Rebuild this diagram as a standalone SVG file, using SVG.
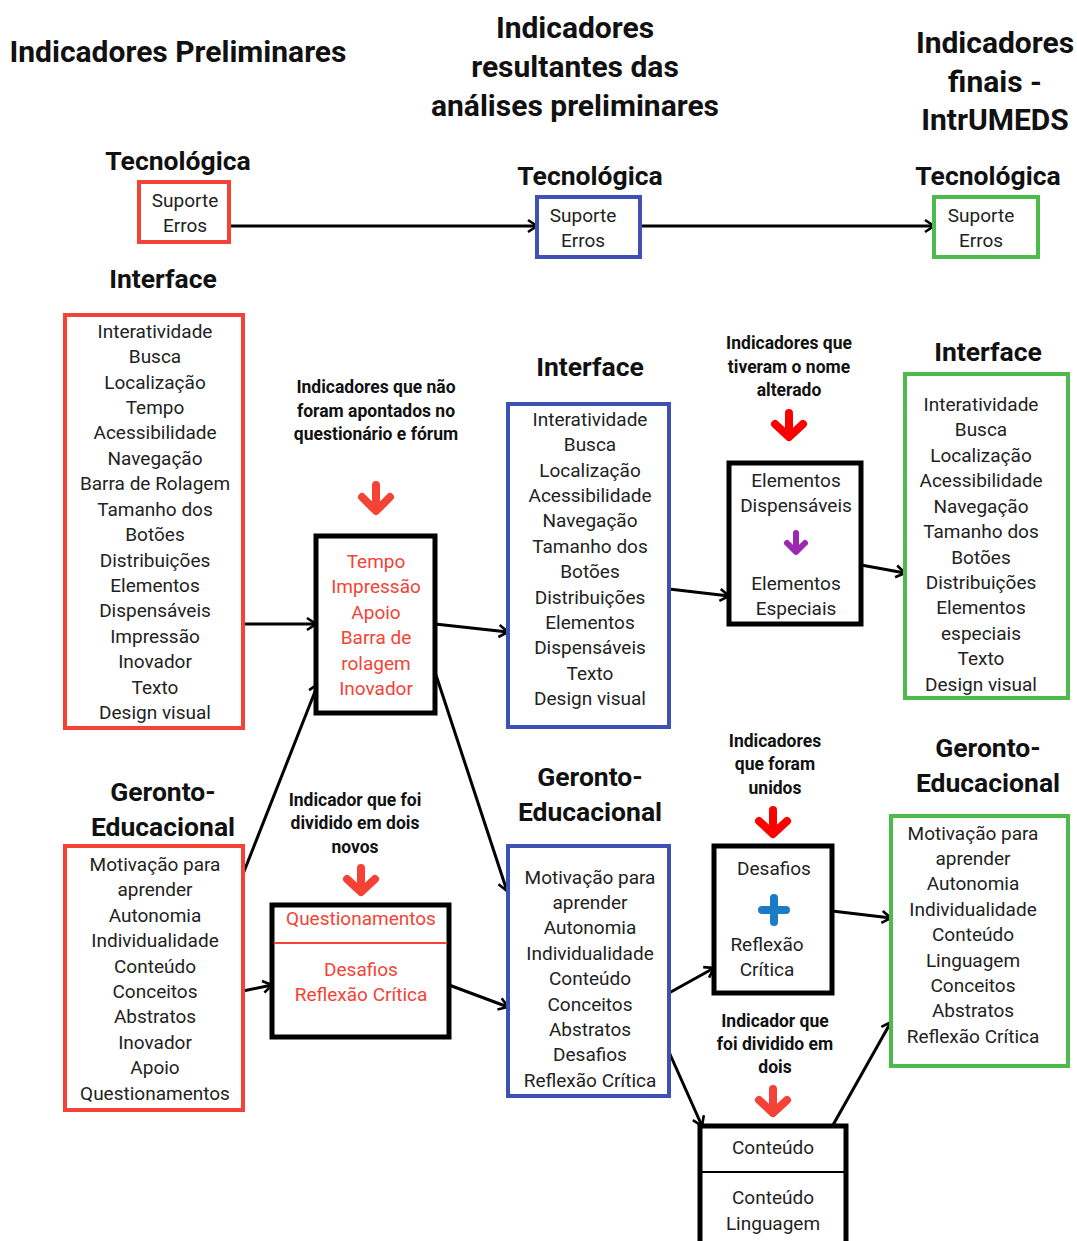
<svg xmlns="http://www.w3.org/2000/svg" width="1077" height="1241" viewBox="0 0 1077 1241">
<style>
text{font-family:Roboto,"Liberation Sans",sans-serif;text-anchor:middle}
.t{font-size:30px;font-weight:bold;fill:#111}
.h{font-size:26.5px;font-weight:bold;fill:#111}
.l{font-size:17.5px;font-weight:bold;fill:#111}
.b{font-size:19px;fill:#222}
.r{font-size:19px;fill:#f44336}
.bx{fill:#fff;stroke-width:4}
.red{stroke:#f44336}
.blue{stroke:#3f51b5}
.green{stroke:#4cbb4c}
.blk{stroke:#000;stroke-width:5}
.con{stroke:#000;stroke-width:3;fill:none;marker-end:url(#ah)}
.ar{fill:none;stroke-width:8;stroke-linecap:round;stroke-linejoin:round}
</style>
<defs>
<marker id="ah" markerUnits="userSpaceOnUse" markerWidth="14" markerHeight="16" refX="11" refY="8" orient="auto">
<path d="M2,2 L11,8 L2,14" fill="none" stroke="#000" stroke-width="2.6"/>
</marker>
</defs>
<rect width="1077" height="1241" fill="#fff"/>

<g id="titles">
<text class="t" x="178" y="62">Indicadores Preliminares</text>
<text class="t"><tspan x="575" y="38">Indicadores</tspan><tspan x="575" y="77">resultantes das</tspan><tspan x="575" y="116">análises preliminares</tspan></text>
<text class="t"><tspan x="995" y="53">Indicadores</tspan><tspan x="995" y="92">finais -</tspan><tspan x="995" y="130">IntrUMEDS</tspan></text>
</g>

<g id="headings">
<text class="h" x="178" y="170">Tecnológica</text>
<text class="h" x="590" y="185">Tecnológica</text>
<text class="h" x="988" y="185">Tecnológica</text>
<text class="h" x="163" y="288">Interface</text>
<text class="h" x="590" y="376">Interface</text>
<text class="h" x="988" y="361">Interface</text>
<text class="h"><tspan x="163" y="801">Geronto-</tspan><tspan x="163" y="836">Educacional</tspan></text>
<text class="h"><tspan x="590" y="786">Geronto-</tspan><tspan x="590" y="821">Educacional</tspan></text>
<text class="h"><tspan x="988" y="757">Geronto-</tspan><tspan x="988" y="792">Educacional</tspan></text>
</g>

<g id="labels">
<text class="l"><tspan x="376" y="393">Indicadores que não</tspan><tspan x="376" y="417">foram apontados no</tspan><tspan x="376" y="440">questionário e fórum</tspan></text>
<text class="l"><tspan x="789" y="349">Indicadores que</tspan><tspan x="789" y="373">tiveram o nome</tspan><tspan x="789" y="396">alterado</tspan></text>
<text class="l"><tspan x="355" y="806">Indicador que foi</tspan><tspan x="355" y="829">dividido em dois</tspan><tspan x="355" y="853">novos</tspan></text>
<text class="l"><tspan x="775" y="747">Indicadores</tspan><tspan x="775" y="770">que foram</tspan><tspan x="775" y="794">unidos</tspan></text>
<text class="l"><tspan x="775" y="1027">Indicador que</tspan><tspan x="775" y="1050">foi dividido em</tspan><tspan x="775" y="1073">dois</tspan></text>
</g>

<g id="connectors">
<line class="con" x1="229" y1="226" x2="537" y2="226"/>
<line class="con" x1="640" y1="226" x2="934" y2="226"/>
<line class="con" x1="243" y1="624" x2="316" y2="624"/>
<line class="con" x1="243" y1="874" x2="318" y2="684"/>
<line class="con" x1="435" y1="624" x2="508" y2="632"/>
<line class="con" x1="436" y1="675" x2="507" y2="891"/>
<line class="con" x1="243" y1="991" x2="272" y2="985"/>
<line class="con" x1="449" y1="985" x2="508" y2="1007"/>
<line class="con" x1="669" y1="589" x2="729" y2="596"/>
<line class="con" x1="861" y1="565" x2="905" y2="573"/>
<line class="con" x1="669" y1="993" x2="714" y2="968"/>
<line class="con" x1="832" y1="911" x2="891" y2="918"/>
<line class="con" x1="669" y1="1052" x2="702" y2="1126"/>
<line class="con" x1="833" y1="1125" x2="891" y2="1022"/>
</g>

<g id="tec-pre">
<rect class="bx red" x="139" y="182" width="90" height="60"/>
<text class="b"><tspan x="185" y="207">Suporte</tspan><tspan x="185" y="232">Erros</tspan></text>
</g>
<g id="tec-res">
<rect class="bx blue" x="537" y="197" width="103" height="60"/>
<text class="b"><tspan x="583" y="222">Suporte</tspan><tspan x="583" y="247">Erros</tspan></text>
</g>
<g id="tec-fin">
<rect class="bx green" x="934" y="197" width="104" height="60"/>
<text class="b"><tspan x="981" y="222">Suporte</tspan><tspan x="981" y="247">Erros</tspan></text>
</g>

<g id="int-pre">
<rect class="bx red" x="65" y="315" width="178" height="413"/>
<text class="b"><tspan x="155" y="338">Interatividade</tspan><tspan x="155" y="363">Busca</tspan><tspan x="155" y="389">Localização</tspan><tspan x="155" y="414">Tempo</tspan><tspan x="155" y="439">Acessibilidade</tspan><tspan x="155" y="465">Navegação</tspan><tspan x="155" y="490">Barra de Rolagem</tspan><tspan x="155" y="516">Tamanho dos</tspan><tspan x="155" y="541">Botões</tspan><tspan x="155" y="567">Distribuições</tspan><tspan x="155" y="592">Elementos</tspan><tspan x="155" y="617">Dispensáveis</tspan><tspan x="155" y="643">Impressão</tspan><tspan x="155" y="668">Inovador</tspan><tspan x="155" y="694">Texto</tspan><tspan x="155" y="719">Design visual</tspan></text>
</g>

<g id="removed">
<path class="ar" stroke="#f44336" d="M376,485 L376,510 M362,497 L376,511 L390,497"/>
<rect class="bx blk" x="316" y="536" width="119" height="177"/>
<text class="r"><tspan x="376" y="568">Tempo</tspan><tspan x="376" y="593">Impressão</tspan><tspan x="376" y="619">Apoio</tspan><tspan x="376" y="644">Barra de</tspan><tspan x="376" y="670">rolagem</tspan><tspan x="376" y="695">Inovador</tspan></text>
</g>

<g id="int-res">
<rect class="bx blue" x="508" y="404" width="161" height="323"/>
<text class="b"><tspan x="590" y="426">Interatividade</tspan><tspan x="590" y="451">Busca</tspan><tspan x="590" y="477">Localização</tspan><tspan x="590" y="502">Acessibilidade</tspan><tspan x="590" y="527">Navegação</tspan><tspan x="590" y="553">Tamanho dos</tspan><tspan x="590" y="578">Botões</tspan><tspan x="590" y="604">Distribuições</tspan><tspan x="590" y="629">Elementos</tspan><tspan x="590" y="654">Dispensáveis</tspan><tspan x="590" y="680">Texto</tspan><tspan x="590" y="705">Design visual</tspan></text>
</g>

<g id="renamed">
<path class="ar" stroke="#ff0000" d="M789,413 L789,436 M775,424 L789,437 L803,424"/>
<rect class="bx blk" x="729" y="463" width="132" height="161"/>
<text class="b"><tspan x="796" y="487">Elementos</tspan><tspan x="796" y="512">Dispensáveis</tspan></text>
<path stroke="#9c27b0" stroke-width="6" fill="none" stroke-linecap="round" stroke-linejoin="round" d="M796,533 L796,551 M787,543 L796,552 L805,543"/>
<text class="b"><tspan x="796" y="590">Elementos</tspan><tspan x="796" y="615">Especiais</tspan></text>
</g>

<g id="int-fin">
<rect class="bx green" x="905" y="374" width="163" height="324"/>
<text class="b"><tspan x="981" y="411">Interatividade</tspan><tspan x="981" y="436">Busca</tspan><tspan x="981" y="462">Localização</tspan><tspan x="981" y="487">Acessibilidade</tspan><tspan x="981" y="513">Navegação</tspan><tspan x="981" y="538">Tamanho dos</tspan><tspan x="981" y="564">Botões</tspan><tspan x="981" y="589">Distribuições</tspan><tspan x="981" y="614">Elementos</tspan><tspan x="981" y="640">especiais</tspan><tspan x="981" y="665">Texto</tspan><tspan x="981" y="691">Design visual</tspan></text>
</g>

<g id="ger-pre">
<rect class="bx red" x="65" y="846" width="178" height="264"/>
<text class="b"><tspan x="155" y="871">Motivação para</tspan><tspan x="155" y="896">aprender</tspan><tspan x="155" y="922">Autonomia</tspan><tspan x="155" y="947">Individualidade</tspan><tspan x="155" y="973">Conteúdo</tspan><tspan x="155" y="998">Conceitos</tspan><tspan x="155" y="1023">Abstratos</tspan><tspan x="155" y="1049">Inovador</tspan><tspan x="155" y="1074">Apoio</tspan><tspan x="155" y="1100">Questionamentos</tspan></text>
</g>

<g id="split1">
<path class="ar" stroke="#f44336" d="M361,868 L361,891 M347,879 L361,892 L375,879"/>
<rect class="bx blk" x="272" y="905" width="177" height="132"/>
<line x1="274" y1="943" x2="447" y2="943" stroke="#f44336" stroke-width="2"/>
<text class="r"><tspan x="361" y="925">Questionamentos</tspan><tspan x="361" y="976">Desafios</tspan><tspan x="361" y="1001">Reflexão Crítica</tspan></text>
</g>

<g id="ger-res">
<rect class="bx blue" x="508" y="846" width="161" height="250"/>
<text class="b"><tspan x="590" y="884">Motivação para</tspan><tspan x="590" y="909">aprender</tspan><tspan x="590" y="934">Autonomia</tspan><tspan x="590" y="960">Individualidade</tspan><tspan x="590" y="985">Conteúdo</tspan><tspan x="590" y="1011">Conceitos</tspan><tspan x="590" y="1036">Abstratos</tspan><tspan x="590" y="1061">Desafios</tspan><tspan x="590" y="1087">Reflexão Crítica</tspan></text>
</g>

<g id="joined">
<path class="ar" stroke="#ff0000" d="M773,810 L773,833 M759,821 L773,834 L787,821"/>
<rect class="bx blk" x="714" y="846" width="118" height="147"/>
<text class="b" x="774" y="875">Desafios</text>
<path stroke="#1a7cc7" stroke-width="8" stroke-linecap="round" d="M774,898 L774,922 M762,910 L786,910"/>
<text class="b"><tspan x="767" y="951">Reflexão</tspan><tspan x="767" y="976">Crítica</tspan></text>
</g>

<g id="split2">
<path class="ar" stroke="#f44336" d="M773,1089 L773,1112 M759,1100 L773,1113 L787,1100"/>
<rect class="bx blk" x="700" y="1126" width="146" height="130"/>
<line x1="700" y1="1172" x2="846" y2="1172" stroke="#000" stroke-width="2"/>
<text class="b"><tspan x="773" y="1154">Conteúdo</tspan><tspan x="773" y="1204">Conteúdo</tspan><tspan x="773" y="1230">Linguagem</tspan></text>
</g>

<g id="ger-fin">
<rect class="bx green" x="891" y="816" width="177" height="250"/>
<text class="b"><tspan x="973" y="840">Motivação para</tspan><tspan x="973" y="865">aprender</tspan><tspan x="973" y="890">Autonomia</tspan><tspan x="973" y="916">Individualidade</tspan><tspan x="973" y="941">Conteúdo</tspan><tspan x="973" y="967">Linguagem</tspan><tspan x="973" y="992">Conceitos</tspan><tspan x="973" y="1017">Abstratos</tspan><tspan x="973" y="1043">Reflexão Crítica</tspan></text>
</g>
</svg>
